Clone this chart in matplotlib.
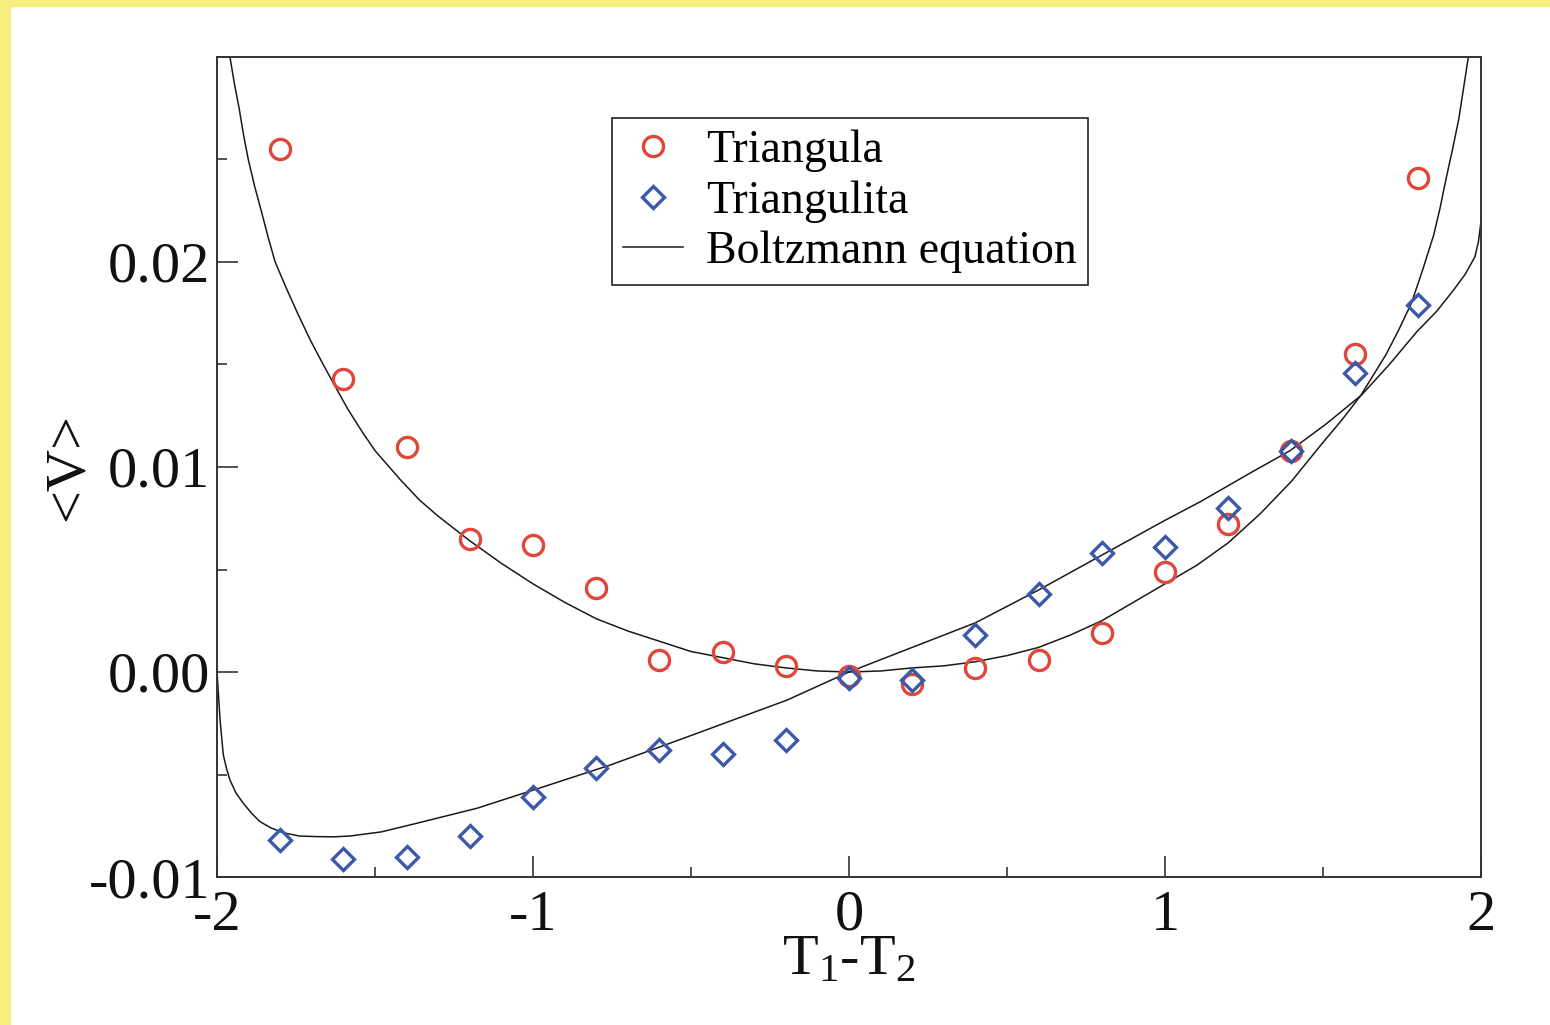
import matplotlib
matplotlib.use("Agg")
from matplotlib import pyplot as plt
from matplotlib.patches import Rectangle
from matplotlib.ticker import MultipleLocator

plt.rcParams['font.family'] = ['Liberation Serif', 'DejaVu Serif']
plt.rcParams['mathtext.fontset'] = 'custom'
plt.rcParams['mathtext.rm'] = 'Liberation Serif'
plt.rcParams['mathtext.default'] = 'rm'
plt.rcParams['axes.unicode_minus'] = False

# measured points, T1-T2 from -1.8 to 1.8
t_diff = [-1.8, -1.6, -1.4, -1.2, -1.0, -0.8, -0.6, -0.4, -0.2, 0.0,
          0.2, 0.4, 0.6, 0.8, 1.0, 1.2, 1.4, 1.6, 1.8]
v_triangula = [0.0255, 0.0143, 0.0110, 0.0065, 0.0062, 0.0041, 0.0006, 0.0010, 0.0003, -0.0002,
               -0.0006, 0.0002, 0.0006, 0.0019, 0.0049, 0.0072, 0.0108, 0.0155, 0.0241]
v_triangulita = [-0.0082, -0.0091, -0.0090, -0.0080, -0.0061, -0.0047, -0.0038, -0.0040, -0.0033, -0.0003,
                 -0.0004, 0.0018, 0.0038, 0.0058, 0.0061, 0.0080, 0.0108, 0.0146, 0.0179]

# Boltzmann equation curve for Triangula
bz_sym_x = [-1.959, -1.945, -1.930, -1.916, -1.901, -1.881, -1.860, -1.838, -1.816, -1.780,
            -1.745, -1.705, -1.664, -1.625, -1.585, -1.540, -1.500, -1.421, -1.360, -1.300,
            -1.200, -1.100, -1.000, -0.900, -0.800, -0.700, -0.600, -0.500, -0.400, -0.300,
            -0.200, -0.100, 0.000, 0.100, 0.200, 0.300, 0.400, 0.500, 0.600, 0.700,
            0.800, 0.900, 1.000, 1.100, 1.200, 1.300, 1.400, 1.500, 1.560, 1.620,
            1.660, 1.700, 1.740, 1.780, 1.815, 1.850, 1.870, 1.890, 1.910, 1.930,
            1.945, 1.960]
bz_sym_y = [0.0300, 0.0287, 0.0275, 0.0262, 0.0250, 0.0237, 0.0225, 0.0212, 0.0200, 0.0187,
            0.0175, 0.0162, 0.0150, 0.0139, 0.0128, 0.0117, 0.0108, 0.0094, 0.0084, 0.0076,
            0.0064, 0.0053, 0.0043, 0.0034, 0.0026, 0.0020, 0.0015, 0.0010, 0.0007, 0.0004,
            0.0002, 0.00005, 0.0000, 0.00005, 0.0002, 0.0003, 0.0005, 0.0008, 0.0012, 0.0018,
            0.0025, 0.0034, 0.0043, 0.0052, 0.0063, 0.0077, 0.0093, 0.0112, 0.0123, 0.0135,
            0.0145, 0.0155, 0.0167, 0.0180, 0.0196, 0.0213, 0.0226, 0.0241, 0.0255, 0.0270,
            0.0285, 0.0300]

# Boltzmann equation curve for Triangulita
bz_asym_x = [-2.000, -1.990, -1.980, -1.970, -1.959, -1.940, -1.917, -1.890, -1.864, -1.830,
             -1.790, -1.740, -1.685, -1.630, -1.579, -1.480, -1.389, -1.178, -0.967, -0.756,
             -0.500, -0.196, 0.000, 0.200, 0.400, 0.600, 0.800, 1.000, 1.111, 1.269,
             1.396, 1.510, 1.622, 1.710, 1.797, 1.860, 1.913, 1.950, 1.981, 1.992,
             2.000]
bz_asym_y = [0.0000, -0.0024, -0.00405, -0.0047, -0.00527, -0.0059, -0.0064, -0.0069, -0.0073, -0.0076,
             -0.00784, -0.0080, -0.00803, -0.00804, -0.0080, -0.0078, -0.00746, -0.00665, -0.0056, -0.00454,
             -0.0031, -0.00137, 0.0000, 0.0012, 0.0024, 0.0040, 0.0057, 0.0074, 0.0083, 0.0097,
             0.0108, 0.0121, 0.01351, 0.0150, 0.0166, 0.0176, 0.01863, 0.0194, 0.02026, 0.0210,
             0.02197]

fig = plt.figure(figsize=(15.5, 10.25), dpi=100)
fig.set_facecolor("white")
# yellow frame strips on the left and top
fig.patches.append(Rectangle((0, 0), 10 / 1550, 1, transform=fig.transFigure,
                             color="#F7EE80", zorder=0))
fig.patches.append(Rectangle((0, 1 - 6 / 1025), 1, 6 / 1025, transform=fig.transFigure,
                             color="#F7EE80", zorder=0))

ax = fig.add_axes([217 / 1550, 1 - 877 / 1025, 1264 / 1550, 820 / 1025])

ax.plot(bz_sym_x, bz_sym_y, color="#1a1a1a", linewidth=1.1, label="Boltzmann equation", zorder=2)
ax.plot(bz_asym_x, bz_asym_y, color="#1a1a1a", linewidth=1.1, label="_nolegend_", zorder=2)
ax.plot(t_diff, v_triangula, linestyle="none", marker="o", markersize=14.5, markeredgewidth=2.4,
        markerfacecolor="none", markeredgecolor="#E1463B", label="Triangula", zorder=3)
ax.plot(t_diff, v_triangulita, linestyle="none", marker="D", markersize=11, markeredgewidth=2.4,
        markerfacecolor="none", markeredgecolor="#3C58A9", label="Triangulita", zorder=3)

ax.set_xlim(-2, 2)
ax.set_ylim(-0.01, 0.03)
ax.set_xticks([-2, -1, 0, 1, 2])
ax.set_yticks([-0.01, 0.0, 0.01, 0.02])
ax.set_yticklabels(["-0.01", "0.00", "0.01", "0.02"])
ax.xaxis.set_minor_locator(MultipleLocator(0.5))
ax.yaxis.set_minor_locator(MultipleLocator(0.005))
ax.tick_params(which="major", direction="in", length=15, width=1.1, labelsize=42,
               top=False, right=False, colors="#222222")
ax.tick_params(which="minor", direction="in", length=7.5, width=1.1,
               top=False, right=False, colors="#222222")
ax.tick_params(axis="x", pad=9)
ax.tick_params(axis="y", pad=5)
for lbl in ax.get_xticklabels() + ax.get_yticklabels():
    lbl.set_color("#111111")
for spine in ax.spines.values():
    spine.set_linewidth(1.4)
    spine.set_color("#333333")

ax.set_xlabel("T$_1$-T$_2$", fontsize=42, color="#111111")
ax.set_ylabel("<V>", fontsize=42, color="#111111")
ax.xaxis.set_label_coords(0.5, -0.07)
ax.yaxis.set_label_coords(-0.097, 0.5)

handles, labels = ax.get_legend_handles_labels()
order = [labels.index("Triangula"), labels.index("Triangulita"), labels.index("Boltzmann equation")]
leg = ax.legend([handles[i] for i in order], [labels[i] for i in order],
                loc="upper left", bbox_to_anchor=(0.3125, 0.9256), borderaxespad=0,
                fontsize=33, numpoints=1, handlelength=1.3, handletextpad=0.5,
                labelspacing=0.18, borderpad=0.25, fancybox=False, framealpha=1)
leg.get_frame().set_edgecolor("#222222")
leg.get_frame().set_linewidth(1.2)

fig.savefig("out.png", dpi=100, facecolor=fig.get_facecolor())
